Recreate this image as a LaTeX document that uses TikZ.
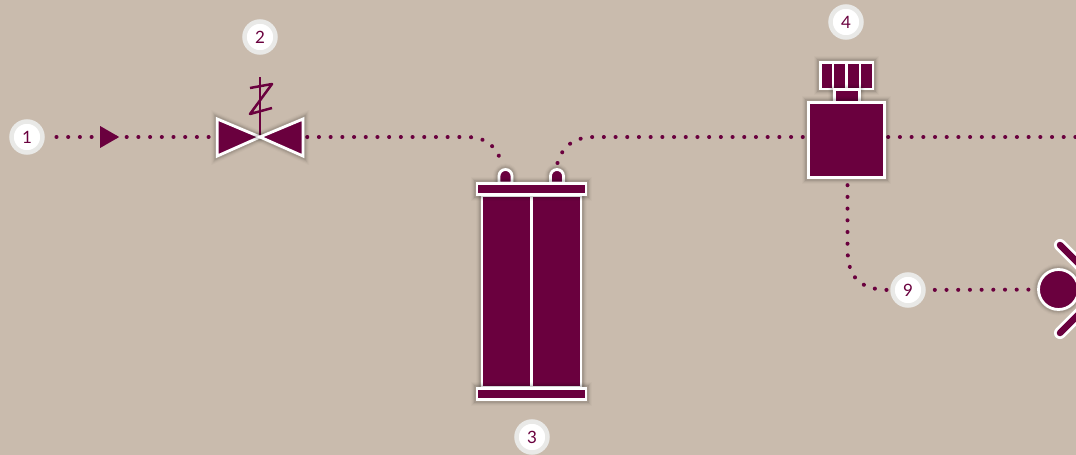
\documentclass[tikz,border=0pt]{standalone}
\usepackage{fontspec}
\setmainfont{Lato}
\usepackage{xcolor}
\usetikzlibrary{shapes,positioning,backgrounds}
\definecolor{wine}{HTML}{6A003E}
\definecolor{sand}{HTML}{C9BBAD}
\definecolor{ring}{HTML}{E9E9E7}
\begin{document}
\begin{tikzpicture}[x=1pt,y=-1pt,
    label/.style={circle,draw=ring,fill=white,line width=4.5pt,inner sep=0pt,minimum size=31pt,text=wine,font=\fontsize{17}{20}\selectfont},
    unit/.style={rectangle,fill=wine,draw=white,line width=2.8pt,inner sep=0pt,
        preaction={draw=black,opacity=.02,line width=12pt},
        preaction={draw=black,opacity=.03,line width=10pt},
        preaction={draw=black,opacity=.05,line width=8pt},
        preaction={draw=black,opacity=.08,line width=6pt}},
    pipe/.style={draw=wine,line width=4pt,line cap=round,dash pattern=on 0.1pt off 11.6pt},
    leg/.style={draw=white,double=wine,double distance=6.5pt,line width=2.8pt,line cap=round}]
    \useasboundingbox (0,0) rectangle (1076,455);
    \begin{pgfonlayer}{background}
        \fill[sand] (0,0) rectangle (1076,455);
    \end{pgfonlayer}
    \node[label] (l1) at (27,137) {1};
    \node[label] (l2) at (260,37) {2};
    \node[label] (l3) at (532,437) {3};
    \node[label] (l4) at (846,22) {4};
    \node[label] (l9) at (908,290) {9};
    \node[inner sep=0pt,minimum width=88pt,minimum height=40pt] (valve) at (260,137) {};
    \draw[wine,line width=2.5pt] (260,77) -- (valve.center);
    \draw[wine,line width=2.5pt,line join=round] (250,88) -- (272,84) -- (250,114) -- (272,108);
    \draw[unit,line join=miter] (valve.center) -- (217.3,119) -- (217.3,156) -- cycle;
    \draw[unit,line join=miter] (valve.center) -- (303,119) -- (303,156) -- cycle;
    \node[isosceles triangle,isosceles triangle apex angle=60,fill=wine,inner sep=0pt,minimum height=19pt,minimum width=21pt] (flow) at (106.5,137) {};
    \node[unit,minimum width=99pt,minimum height=192pt] (tank) at (531.5,291.5) {};
    \draw[white,line width=2.8pt] (tank.north) -- (tank.south);
    \draw[unit] (499,183) -- (499,176) arc (180:0:6.5pt) -- (512,183) -- cycle;
    \draw[unit] (550.5,183) -- (550.5,176) arc (180:0:6.5pt) -- (563.5,183) -- cycle;
    \coordinate (nozl) at (502,163.5);
    \coordinate (nozr) at (557.5,163);
    \node[unit,minimum width=109pt,minimum height=11.5pt] (capt) at (531.5,189) {};
    \node[unit,minimum width=109pt,minimum height=11.5pt] (capb) at (531.5,394) {};
    \node[unit,minimum width=52.5pt,minimum height=26.5pt] (head) at (846.7,75.7) {};
    \draw[white,line width=2.8pt] (833,62.5) -- (833,89) (846.7,62.5) -- (846.7,89) (860,62.5) -- (860,89);
    \node[unit,minimum width=25pt,minimum height=13pt] (neck) at (846.7,96) {};
    \node[unit,minimum width=76.5pt,minimum height=75.5pt] (filter) at (846.5,140) {};
    \draw[leg] (1060,245) -- (1100,285);
    \draw[leg] (1060,333) -- (1100,293);
    \node[unit,circle,minimum size=40pt] (pump) at (1058.5,289.5) {};
    \coordinate (pipeend) at (1076,137);
    \coordinate (bendl) at (466,137);
    \coordinate (bendr) at (594,137);
    \coordinate (bendd) at (847.5,248);
    \begin{pgfonlayer}{background}
        \draw[pipe,shorten <=3pt] (valve) -- (bendl) .. controls (488,137) and (497,148) .. (nozl);
        \draw[pipe,shorten <=11.7pt] (l1) -- (valve);
        \draw[pipe] (nozr) .. controls (562,148) and (572,137) .. (bendr) -- (filter.west |- bendr);
        \draw[pipe,shorten <=2pt] (filter.east |- pipeend) -- (pipeend);
        \draw[pipe,shorten <=6pt] (filter.south -| bendd) -- (bendd) .. controls (847.5,276) and (858,290) .. (l9);
        \draw[pipe,shorten <=9pt] (l9) -- (pump);
    \end{pgfonlayer}
\end{tikzpicture}
\end{document}
